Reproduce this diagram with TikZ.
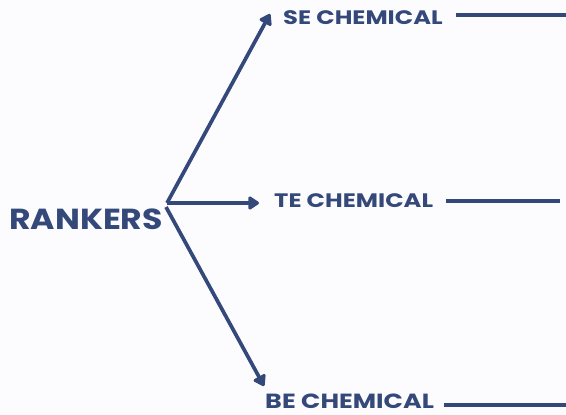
\documentclass[tikz,border=0pt]{standalone}
\usepackage{fontspec}
\setmainfont{Poppins}[BoldFont={* Bold}]
\usetikzlibrary{arrows.meta}
\definecolor{navy}{HTML}{34497A}
\tikzset{
  lbl/.style={text=navy, inner sep=0pt, anchor=west},
  arr/.style={draw=navy, line width=3.7pt, -{Triangle[length=12pt,width=15pt,round]}},
  ln/.style={draw=navy, line width=3.7pt}
}
\begin{document}
\begin{tikzpicture}[x=1pt,y=-1pt]
\useasboundingbox[fill=white!99!blue] (0,0) rectangle (566,415);
\node[lbl, font=\bfseries\fontsize{29}{32}\selectfont, xscale=1.14] (r) at (9,219) {RANKERS};
\coordinate (o) at (167,203);
\node[lbl, font=\bfseries\fontsize{19.5}{22}\selectfont, xscale=1.24] (se) at (283,18) {SE CHEMICAL};
\node[lbl, font=\bfseries\fontsize{19.5}{22}\selectfont, xscale=1.24] (te) at (274,201) {TE CHEMICAL};
\node[lbl, font=\bfseries\fontsize{20.5}{23}\selectfont, xscale=1.24] (be) at (265,401) {BE CHEMICAL};
\coordinate (set) at (270,14);
\coordinate (tet) at (259,203);
\coordinate (bet) at (264,386);
\draw[arr] (o) -- (set);
\draw[arr] (o) -- (tet);
\draw[arr] (166,207) -- (bet);
\coordinate (sel) at (456,15); \coordinate (ser) at (566,15);
\coordinate (tel) at (446,201); \coordinate (ter) at (560,201);
\coordinate (bel) at (444,405); \coordinate (ber) at (566,405);
\draw[ln] (sel) -- (ser);
\draw[ln] (tel) -- (ter);
\draw[ln] (bel) -- (ber);
\end{tikzpicture}
\end{document}
